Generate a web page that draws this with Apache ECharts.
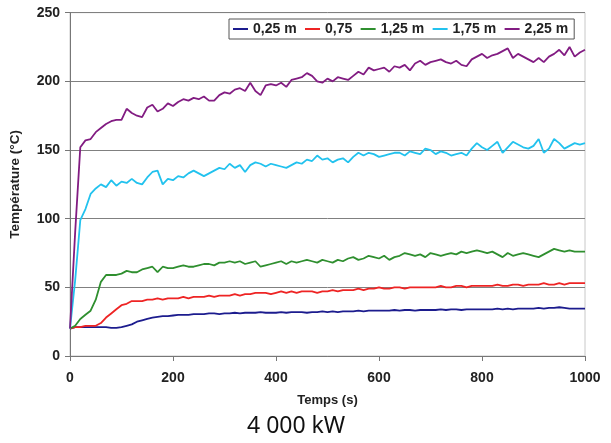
<!DOCTYPE html>
<html><head><meta charset="utf-8">
<script src="https://cdn.jsdelivr.net/npm/echarts@6/dist/echarts.min.js"></script>
<style>html,body{margin:0;padding:0;background:#fff}#c{width:611px;height:443px}</style>
</head><body><div id="c"></div>
<script>
// time axis (s): 0..1000 step 10
const times = [0,10,20,30,40,50,60,70,80,90,100,110,120,130,140,150,160,170,180,190,200,210,220,230,240,250,260,270,280,290,300,310,320,330,340,350,360,370,380,390,400,410,420,430,440,450,460,470,480,490,500,510,520,530,540,550,560,570,580,590,600,610,620,630,640,650,660,670,680,690,700,710,720,730,740,750,760,770,780,790,800,810,820,830,840,850,860,870,880,890,900,910,920,930,940,950,960,970,980,990,1000];
const seriesNames = ["0,25 m","0,75","1,25 m","1,75 m","2,25 m"];
const t025 = [20,21,21,21,21,21,21,21,20.5,20.5,21,22,23,25,26,27,28,28.5,29,29,29.5,30,30,30,30.5,30.5,30.5,31,31,30.5,31,31,31.5,31,31.5,31.5,31.5,32,31.5,31.5,31.5,32,31.5,32,32,32,31.5,32,32,32.5,32,32.5,32,32.5,32.5,32.5,33,32.5,33,33,33,33,33,33.5,33,33.5,33.5,33,33.5,33.5,33.5,33.5,34,33.5,34,34,33.5,34,34,34,34,34,34,34.5,34,34.5,34,34.5,34.5,34.5,34.5,35,34.5,35,35,35.5,35,34.5,34.5,34.5,34.5];
const t075 = [20,21,21,22,22,22,24,28,31,34,37,38,40,40,40,41,41,42,41,42,42,42,43,42,43,43,43,44,43,44,44,44,45,44,45,45,46,46,46,45,46,47,46,47,46,47,47,47,46,47,47,48,47,48,48,48,49,48,49,49,50,49,49,50,50,49,50,50,50,50,50,50,51,50,50,51,51,50,51,51,51,51,51,52,51,51,52,52,51,52,52,52,53,52,52,53,52,53,53,53,53];
const t125 = [20,22,27,30,33,41,54,59,59,59,60,62,61,61,63,64,65,61,65,64,64,65,66,65,65,66,67,67,66,68,68,69,68,69,67,68,69,65,66,67,68,69,67,69,68,69,70,69,68,70,69,68,70,69,71,72,70,71,73,72,71,73,70,72,73,75,74,73,74,72,75,74,73,74,75,74,76,75,76,77,76,75,76,74,72,75,73,74,75,74,73,72,74,76,78,77,76,77,76,76,76];
const t175 = [20,55,99,107,118,122,125,123,128,124,127,126,129,126,125,130,134,135,125,129,128,131,130,133,135,133,131,133,135,137,136,140,137,139,134,139,141,140,138,140,139,138,137,139,141,140,143,142,146,143,144,141,143,144,141,145,148,146,148,147,145,146,147,148,148,146,149,148,147,151,150,147,149,148,146,147,148,146,151,155,152,150,153,156,148,152,156,154,152,151,153,158,148,151,158,155,151,153,155,154,155];
const t225 = [20,90,152,157,158,163,166,169,171,172,172,180,177,175,174,181,183,178,180,184,182,185,187,186,188,187,189,186,186,190,192,191,194,195,193,199,193,190,197,198,197,199,196,201,202,203,206,204,200,199,202,200,203,202,201,204,207,205,210,208,209,210,207,211,210,212,208,213,215,212,214,215,216,214,213,215,212,211,216,218,220,217,219,220,222,224,217,220,218,216,214,217,214,218,220,223,219,225,218,221,223];
const colors = ["#1c1c8e","#ee2424","#2f8f2f","#22c2ee","#821c82"];
const yTicks = [0,50,100,150,200,250];
const xTicks = [0,200,400,600,800,1000];

const allData = [t025,t075,t125,t175,t225];
const chart = echarts.init(document.getElementById('c'), null, {renderer:'canvas'});
const lab = {fontFamily:'Liberation Sans, Arial, sans-serif', fontWeight:'bold', fontSize:14, color:'#222'};
chart.setOption({
  animation:false,
  backgroundColor:'#fff',
  grid:{left:69.5, right:26, top:12.7, bottom:87, show:true, borderColor:'#c8c8c8', borderWidth:1},
  graphic:[{type:'text', left:247, top:415, style:{text:'4 000 kW', fontFamily:'Noto Sans, Open Sans, sans-serif', fontSize:23, fill:'#111'}}],
  legend:{left:229, top:19, padding:[3,6,3,4], itemGap:8.4, itemWidth:15, itemHeight:2, icon:'rect',
    borderColor:'#555', borderWidth:1, backgroundColor:'#fff',
    textStyle:{fontFamily:'Liberation Sans, Arial, sans-serif', fontWeight:'bold', fontSize:14, color:'#222'},
    data:seriesNames},
  xAxis:{type:'value', min:xTicks[0], max:xTicks[xTicks.length-1], interval:200,
    name:'Temps (s)', nameLocation:'middle', nameGap:38, nameTextStyle:Object.assign({}, lab, {fontSize:13}),
    axisLine:{lineStyle:{color:'#777', width:1}}, axisTick:{show:true, length:5, lineStyle:{color:'#777'}},
    axisLabel:Object.assign({margin:15, formatter:v=>String(v)}, lab), splitLine:{show:false}},
  yAxis:{type:'value', min:yTicks[0], max:yTicks[yTicks.length-1], interval:50,
    name:'Température (°C)', nameLocation:'middle', nameGap:48, nameTextStyle:Object.assign({}, lab, {fontSize:13.5}),
    axisLine:{show:true, lineStyle:{color:'#777', width:1}}, axisTick:{show:true, length:5, lineStyle:{color:'#777'}},
    axisLabel:Object.assign({margin:10, formatter:v=>String(v)}, lab), splitLine:{show:true, lineStyle:{color:'#808080', width:1}}},
  series: seriesNames.map((n,i)=>({
    name:n, type:'line', showSymbol:false, symbol:'none',
    data: times.map((t,k)=>[t, allData[i][k]]),
    lineStyle:{color:colors[i], width:1.8}, itemStyle:{color:colors[i]}, z:2+i
  }))
});
</script></body></html>
